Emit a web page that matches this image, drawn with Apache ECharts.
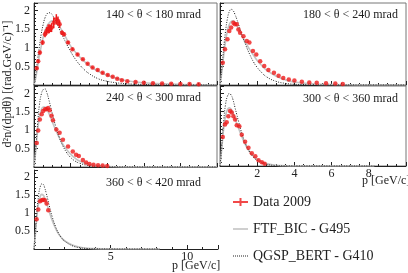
<!DOCTYPE html>
<html><head><meta charset="utf-8">
<script src="https://cdn.jsdelivr.net/npm/echarts@6/dist/echarts.min.js"></script>
<style>html,body{margin:0;padding:0;background:#fff}#c{width:408px;height:273px}</style>
</head><body><div id="c"></div>
<script>
// ---- panel labels ----
const panelLabels = ['140 < θ < 180 mrad','180 < θ < 240 mrad','240 < θ < 300 mrad','300 < θ < 360 mrad','360 < θ < 420 mrad'];
const seriesNames = ['Data 2009','FTF_BIC - G495','QGSP_BERT - G410'];
const yTitle = 'd²n/(dpdθ) [(rad.GeV/c)⁻¹]';
const xTitle = 'p [GeV/c]';

// ---- Data 2009 [p, value] ----
const data1 = [[0.15,0.45],[0.23,0.64],[0.32,0.87],[0.47,1.14],[0.6,1.36],[0.69,1.45],[0.77,1.5],[0.83,1.51],[0.9,1.52],[0.96,1.54],[1.08,1.67],[1.22,1.76],[1.31,1.72],[1.4,1.63],[1.53,1.4],[1.64,1.36],[1.86,1.14],[2.1,0.96],[2.38,0.82],[2.67,0.69],[2.93,0.57],[3.2,0.47],[3.48,0.4],[3.75,0.33],[4.03,0.27],[4.3,0.22],[4.55,0.17],[4.8,0.13],[5.1,0.1],[5.55,0.08],[6.0,0.06],[6.5,0.05],[7.0,0.04],[7.5,0.035],[8.0,0.03],[8.5,0.025],[9.0,0.02]];
const err1 = [0.03,0.04,0.05,0.06,0.08,0.1,0.12,0.12,0.1,0.12,0.15,0.14,0.12,0.1,0.06,0.05,0.04,0.03,0.03,0.02,0.02,0.02,0.02,0.02,0.02,0.01,0.01,0.01,0.01,0.01,0.01,0.01,0.01,0.01,0.01,0.01,0.01];
const data2 = [[0.15,0.6],[0.27,0.96],[0.4,1.23],[0.5,1.45],[0.6,1.54],[0.72,1.67],[0.8,1.63],[0.9,1.63],[0.99,1.49],[1.08,1.4],[1.26,1.31],[1.44,1.18],[1.58,1.14],[1.77,0.91],[1.95,0.82],[2.16,0.64],[2.38,0.51],[2.6,0.4],[2.9,0.33],[3.15,0.25],[3.4,0.19],[3.7,0.15],[4.0,0.12],[4.4,0.09],[4.8,0.07],[5.2,0.06],[5.7,0.05],[6.2,0.04],[6.6,0.03]];
const data3 = [[0.15,0.65],[0.23,0.99],[0.32,1.29],[0.42,1.43],[0.5,1.52],[0.6,1.57],[0.68,1.57],[0.77,1.6],[0.86,1.54],[0.96,1.39],[1.04,1.27],[1.22,1.02],[1.4,0.93],[1.58,0.74],[1.86,0.56],[2.12,0.42],[2.3,0.33],[2.45,0.3],[2.67,0.19],[2.85,0.12],[3.03,0.08],[3.25,0.06],[3.5,0.05],[3.75,0.04],[4.0,0.03]];
const data4 = [[0.15,0.8],[0.27,1.14],[0.36,1.2],[0.45,1.37],[0.54,1.51],[0.63,1.47],[0.72,1.37],[0.81,1.28],[0.9,1.12],[1.04,1.09],[1.17,0.86],[1.35,0.67],[1.53,0.5],[1.71,0.35],[1.9,0.27],[2.07,0.16],[2.25,0.1],[2.4,0.06]];
const data5 = [[0.17,0.83],[0.28,1.1],[0.39,1.33],[0.5,1.36],[0.6,1.37],[0.71,1.36],[0.82,1.27],[0.93,1.08]];

// ---- FTF_BIC - G495 [p, value] ----
const ftf1 = [[0,0],[0.1,0.2],[0.2,0.5],[0.3,0.8],[0.4,1.05],[0.5,1.28],[0.6,1.45],[0.7,1.57],[0.8,1.65],[0.9,1.7],[1.0,1.72],[1.2,1.68],[1.4,1.56],[1.6,1.4],[1.8,1.22],[2.0,1.05],[2.5,0.75],[3.0,0.53],[3.5,0.37],[4.0,0.26],[4.5,0.18],[5.0,0.12],[6.0,0.06],[7.0,0.03],[8.0,0.015],[10,0.005]];
const ftf2 = [[0,0],[0.1,0.35],[0.2,0.8],[0.3,1.18],[0.4,1.45],[0.5,1.62],[0.6,1.7],[0.7,1.72],[0.8,1.68],[0.9,1.6],[1.0,1.5],[1.2,1.3],[1.4,1.12],[1.6,0.95],[1.8,0.8],[2.0,0.66],[2.25,0.52],[2.5,0.4],[3.0,0.24],[3.5,0.14],[4.0,0.08],[5.0,0.03],[6.0,0.012],[8.0,0.003],[10,0]];
const ftf3 = [[0,0],[0.1,0.45],[0.2,1.0],[0.3,1.35],[0.4,1.55],[0.5,1.63],[0.6,1.63],[0.7,1.57],[0.8,1.47],[0.9,1.35],[1.0,1.22],[1.2,0.99],[1.4,0.78],[1.6,0.6],[1.8,0.46],[2.0,0.35],[2.25,0.24],[2.5,0.16],[3.0,0.07],[3.5,0.03],[4.0,0.012],[5.0,0.003],[10,0]];
const ftf4 = [[0,0],[0.1,0.5],[0.2,1.05],[0.3,1.38],[0.4,1.55],[0.5,1.6],[0.6,1.56],[0.7,1.46],[0.8,1.32],[0.9,1.17],[1.0,1.03],[1.2,0.77],[1.4,0.55],[1.6,0.39],[1.8,0.27],[2.0,0.18],[2.25,0.11],[2.5,0.065],[3.0,0.022],[3.5,0.008],[4.0,0.003],[8.3,0]];
const ftf5 = [[0,0],[0.1,0.45],[0.2,0.95],[0.3,1.28],[0.4,1.45],[0.5,1.52],[0.6,1.5],[0.7,1.42],[0.8,1.3],[0.9,1.17],[1.0,1.03],[1.2,0.78],[1.4,0.58],[1.6,0.42],[1.8,0.31],[2.0,0.23],[2.5,0.11],[3.0,0.05],[3.5,0.022],[4.0,0.01],[5.0,0.003],[6.0,0.001],[8.2,0]];

// ---- QGSP_BERT - G410 [p, value] ----
const qgsp1 = [[0,0],[0.1,0.3],[0.2,0.7],[0.3,1.05],[0.4,1.38],[0.5,1.62],[0.6,1.8],[0.7,1.9],[0.8,1.94],[0.9,1.93],[1.0,1.88],[1.2,1.7],[1.4,1.48],[1.6,1.28],[1.8,1.08],[2.0,0.9],[2.25,0.7],[2.5,0.54],[2.75,0.41],[3.0,0.31],[3.5,0.17],[4.0,0.1],[4.5,0.06],[5.0,0.035],[6.0,0.015],[7.0,0.007],[8.0,0.003],[10,0]];
const qgsp2 = [[0,0],[0.1,0.45],[0.2,1.0],[0.3,1.45],[0.4,1.78],[0.5,1.97],[0.6,2.03],[0.7,2.0],[0.8,1.9],[0.9,1.77],[1.0,1.62],[1.2,1.32],[1.4,1.05],[1.6,0.82],[1.8,0.62],[2.0,0.47],[2.25,0.33],[2.5,0.22],[3.0,0.1],[3.5,0.045],[4.0,0.02],[5.0,0.005],[6.0,0.001],[10,0]];
const qgsp3 = [[0,0],[0.1,0.55],[0.2,1.2],[0.3,1.7],[0.4,1.98],[0.5,2.1],[0.6,2.12],[0.7,2.02],[0.8,1.85],[0.9,1.65],[1.0,1.45],[1.2,1.08],[1.4,0.78],[1.6,0.55],[1.8,0.38],[2.0,0.26],[2.25,0.16],[2.5,0.1],[3.0,0.035],[3.5,0.012],[4.0,0.004],[10,0]];
const qgsp4 = [[0,0],[0.1,0.6],[0.2,1.25],[0.3,1.7],[0.4,1.92],[0.5,1.99],[0.6,1.95],[0.7,1.82],[0.8,1.62],[0.9,1.42],[1.0,1.22],[1.2,0.86],[1.4,0.58],[1.6,0.38],[1.8,0.24],[2.0,0.15],[2.25,0.08],[2.5,0.045],[3.0,0.012],[3.5,0.003],[8.3,0]];
const qgsp5 = [[0,0],[0.1,0.55],[0.2,1.1],[0.3,1.5],[0.4,1.72],[0.5,1.81],[0.6,1.8],[0.7,1.7],[0.8,1.55],[0.9,1.38],[1.0,1.2],[1.2,0.88],[1.4,0.63],[1.6,0.44],[1.8,0.31],[2.0,0.22],[2.5,0.09],[3.0,0.035],[3.5,0.013],[4.0,0.005],[5.0,0.001],[8.2,0]];

const datas = [data1,data2,data3,data4,data5];
const ftfs = [ftf1,ftf2,ftf3,ftf4,ftf5];
const qgsps = [qgsp1,qgsp2,qgsp3,qgsp4,qgsp5];

const FONT = 'Liberation Serif';
const RED = '#ee1a1a';
const GRAY = '#c4c4c4';
const grids = [
  {left:34, top:3, width:183, height:82, show:true},
  {left:220, top:3, width:186, height:82, show:true},
  {left:34, top:86, width:183, height:81, show:true},
  {left:220, top:86, width:186, height:80, show:true},
  {left:34, top:170, width:184, height:79, show:false}
].map(g => Object.assign({borderColor:'#777', borderWidth:1, backgroundColor:'transparent'}, g));

const xMax = [10,10,10,10,12];
const xAxes = grids.map((g,i) => ({
  type:'value', gridIndex:i, min:0, max:xMax[i], interval: i===4 ? 5 : 2,
  axisLine:{show:true, onZero:false, lineStyle:{color:'#222', width:1}},
  axisTick:{show:true, inside:true, length:4, lineStyle:{color:'#222'}},
  minorTick:{show:true, splitNumber: i===4 ? 5 : 4, length:2, lineStyle:{color:'#222'}},
  splitLine:{show:false},
  axisLabel:{show: i>=3, margin:2, fontFamily:FONT, fontSize:12, color:'#222', showMaxLabel:false, hideOverlap:false,
    formatter: v => (v===0 || (i===3 && v>8) || (i===4 && v>10)) ? '' : String(v)}
}));
const yAxes = grids.map((g,i) => ({
  type:'value', gridIndex:i, min:0, max:2.2, interval:0.5,
  axisLine:{show:true, lineStyle:{color:'#222', width:1}},
  axisTick:{show:true, inside:true, length:4, lineStyle:{color:'#222'}},
  minorTick:{show:true, splitNumber:5, length:2, lineStyle:{color:'#222'}},
  splitLine:{show:false},
  axisLabel:{show: i%2===0, margin:4, fontFamily:FONT, fontSize:12, color:'#222',
    formatter: v => (v>0 && Math.abs(v*2-Math.round(v*2))<1e-6) ? String(v) : ''}
}));

const series = [];
for (let i=0;i<5;i++){
  series.push({name:seriesNames[1], type:'line', xAxisIndex:i, yAxisIndex:i, data:ftfs[i], symbol:'none', smooth:true,
    lineStyle:{color:GRAY, width:1.6}, itemStyle:{color:GRAY}, z:2, silent:true, animation:false});
  series.push({name:seriesNames[2], type:'line', xAxisIndex:i, yAxisIndex:i, data:qgsps[i], symbol:'none', smooth:true,
    lineStyle:{color:'#222', width:1, type:[1,1.5]}, itemStyle:{color:'#222'}, z:3, silent:true, animation:false});
  series.push({name:seriesNames[0], type:'scatter', xAxisIndex:i, yAxisIndex:i, data:datas[i], symbol:'circle', symbolSize:4.5,
    itemStyle:{color:RED}, z:5, silent:true, animation:false});
}
// error bars for panel 1
series.push({name:seriesNames[0], type:'custom', xAxisIndex:0, yAxisIndex:0, z:4, silent:true, animation:false,
  data: data1.map((d,k)=>[d[0], d[1]-err1[k], d[1]+err1[k]]),
  renderItem:(params, api)=>{
    const a = api.coord([api.value(0), api.value(1)]);
    const b = api.coord([api.value(0), api.value(2)]);
    return {type:'line', shape:{x1:a[0], y1:a[1], x2:b[0], y2:b[1]}, style:{stroke:RED, lineWidth:1.5}};
  }});

const graphics = [
  {type:'text', left:106, top:9, style:{text:panelLabels[0], font:'12px '+FONT, fill:'#222'}},
  {type:'text', left:303, top:9, style:{text:panelLabels[1], font:'12px '+FONT, fill:'#222'}},
  {type:'text', left:106, top:92, style:{text:panelLabels[2], font:'12px '+FONT, fill:'#222'}},
  {type:'text', left:303, top:93, style:{text:panelLabels[3], font:'12px '+FONT, fill:'#222'}},
  {type:'text', left:106, top:177, style:{text:panelLabels[4], font:'12px '+FONT, fill:'#222'}},
  {type:'text', left:362, top:175, style:{text:xTitle, font:'12px '+FONT, fill:'#222'}},
  {type:'text', left:172, top:260, style:{text:xTitle, font:'12px '+FONT, fill:'#222'}},
  {type:'text', x:8, y:84, rotation:Math.PI/2, style:{text:yTitle, font:'12px '+FONT, fill:'#222', textAlign:'center', textVerticalAlign:'middle'}}
];

const dots = Array.from({length:8}, (_,k)=>'M'+(k*2)+',6h1v1.2h-1z').join(' ');
const chart = echarts.init(document.getElementById('c'), null, {renderer:'canvas'});
chart.setOption({
  animation:false,
  backgroundColor:'#fff',
  grid:grids, xAxis:xAxes, yAxis:yAxes, series:series, graphic:graphics,
  legend:{
    orient:'vertical', left:228, top:190, itemGap:13, itemWidth:15, itemHeight:14, selectedMode:false,
    textStyle:{fontFamily:FONT, fontSize:14, color:'#222'},
    data:[
      {name:seriesNames[0], icon:'path://M0,6h15v2h-15z M6.5,3h2v8h-2z', itemStyle:{color:RED}},
      {name:seriesNames[1], icon:'path://M0,6h15v1.6h-15z', itemStyle:{color:GRAY}},
      {name:seriesNames[2], icon:'path://'+dots, itemStyle:{color:'#222'}}
    ]
  }
});
</script></body></html>
